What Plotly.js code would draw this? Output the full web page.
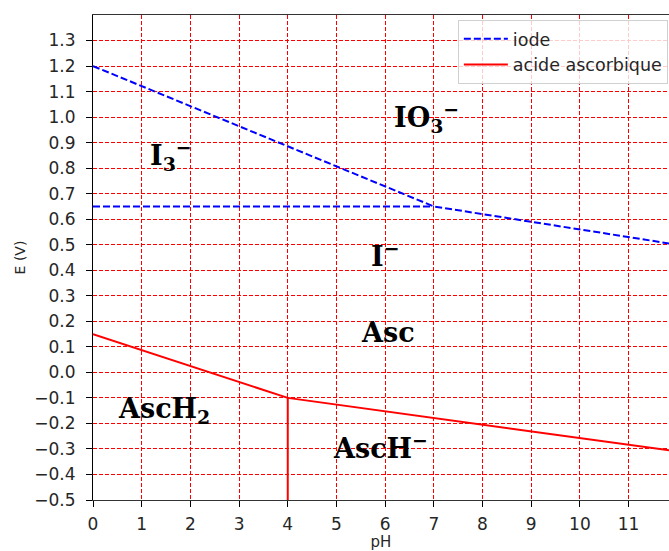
<!DOCTYPE html>
<html><head><meta charset="utf-8">
<script src="https://cdn.plot.ly/plotly-3.0.1.min.js"></script>
<style>html,body{margin:0;padding:0;background:#fff}#chart{width:669px;height:551px}</style>
</head><body><div id="chart"></div>
<script>
// iode boundaries
const iodeX1 = [0, 7, 12];
const iodeY1 = [1.2, 0.65, 0.5];
const iodeX2 = [0, 7];
const iodeY2 = [0.65, 0.65];
// acide ascorbique boundaries
const ascX1 = [0, 4, 12];
const ascY1 = [0.15, -0.1, -0.31];
const ascX2 = [4, 4];
const ascY2 = [-0.1, -0.5];
// species labels
const labelText = ["I<sub>3</sub><sup>−</sup>", "IO<sub>3</sub><sup>−</sup>", "I<sup>−</sup>", "Asc", "AscH<sub>2</sub>", "AscH<sup>−</sup>"];
const labelX = [1.6, 6.85, 6.0, 6.05, 1.45, 5.9];
const labelY = [0.85, 1.0, 0.46, 0.155, -0.15, -0.29];

const xTicks = [0,1,2,3,4,5,6,7,8,9,10,11];
const yTicks = [-0.5,-0.4,-0.3,-0.2,-0.1,0,0.1,0.2,0.3,0.4,0.5,0.6,0.7,0.8,0.9,1.0,1.1,1.2,1.3];
const yTickText = yTicks.map(v => (v < 0 ? "−" : "") + Math.abs(v).toFixed(1));

const traces = [
  {x: iodeX1, y: iodeY1, mode: 'lines', name: 'iode', line: {color: '#0000ff', width: 2, dash: '7px,3px'}},
  {x: iodeX2, y: iodeY2, mode: 'lines', name: 'iode', showlegend: false, line: {color: '#0000ff', width: 2, dash: '7px,3px'}},
  {x: ascX1, y: ascY1, mode: 'lines', name: 'acide ascorbique', line: {color: '#ff0000', width: 2}},
  {x: ascX2, y: ascY2, mode: 'lines', name: 'acide ascorbique', showlegend: false, line: {color: '#ff0000', width: 2}}
];

const annotations = labelText.map((t, i) => ({
  x: labelX[i], y: labelY[i], text: t, showarrow: false,
  font: {family: 'DejaVu Serif', size: 27, color: '#000', weight: 'bold'},
  xanchor: 'center', yanchor: 'middle'
}));

const layout = {
  width: 669, height: 551,
  margin: {l: 93, r: 0, t: 15, b: 51},
  paper_bgcolor: '#fff', plot_bgcolor: '#fff',
  font: {family: 'DejaVu Sans', size: 17, color: '#262626'},
  showlegend: true,
  legend: {x: 0.998, y: 0.99, xanchor: 'right', yanchor: 'top', bgcolor: 'rgba(255,255,255,0.8)', bordercolor: '#d0d0d0', borderwidth: 1, font: {size: 17.5, color: '#262626'}, tracegroupgap: 0, itemwidth: 44},
  xaxis: {
    range: [0, 11.83], tickvals: xTicks, ticktext: xTicks.map(String),
    tickfont: {size: 17},
    showgrid: true, gridcolor: '#ff0000', gridwidth: 1, griddash: '4px,2px',
    showline: true, linecolor: '#333', linewidth: 1.2, mirror: true,
    ticks: 'outside', ticklen: 6, tickcolor: '#000', zeroline: false,
    ticklabelstandoff: 2,
    title: {text: 'pH', font: {size: 15}, standoff: 4}
  },
  yaxis: {
    range: [-0.5, 1.4], tickvals: yTicks, ticktext: yTickText,
    tickfont: {size: 17},
    showgrid: true, gridcolor: '#ff0000', gridwidth: 1, griddash: '4px,2px',
    showline: true, linecolor: '#000', linewidth: 1, mirror: false,
    ticks: 'outside', ticklen: 6, tickcolor: '#000', zeroline: false,
    ticklabelstandoff: 7,
    title: {text: 'E (V)', font: {size: 14}, standoff: 5}
  },
  annotations: annotations
};
Plotly.newPlot('chart', traces, layout, {displayModeBar: false, staticPlot: true});
</script></body></html>
